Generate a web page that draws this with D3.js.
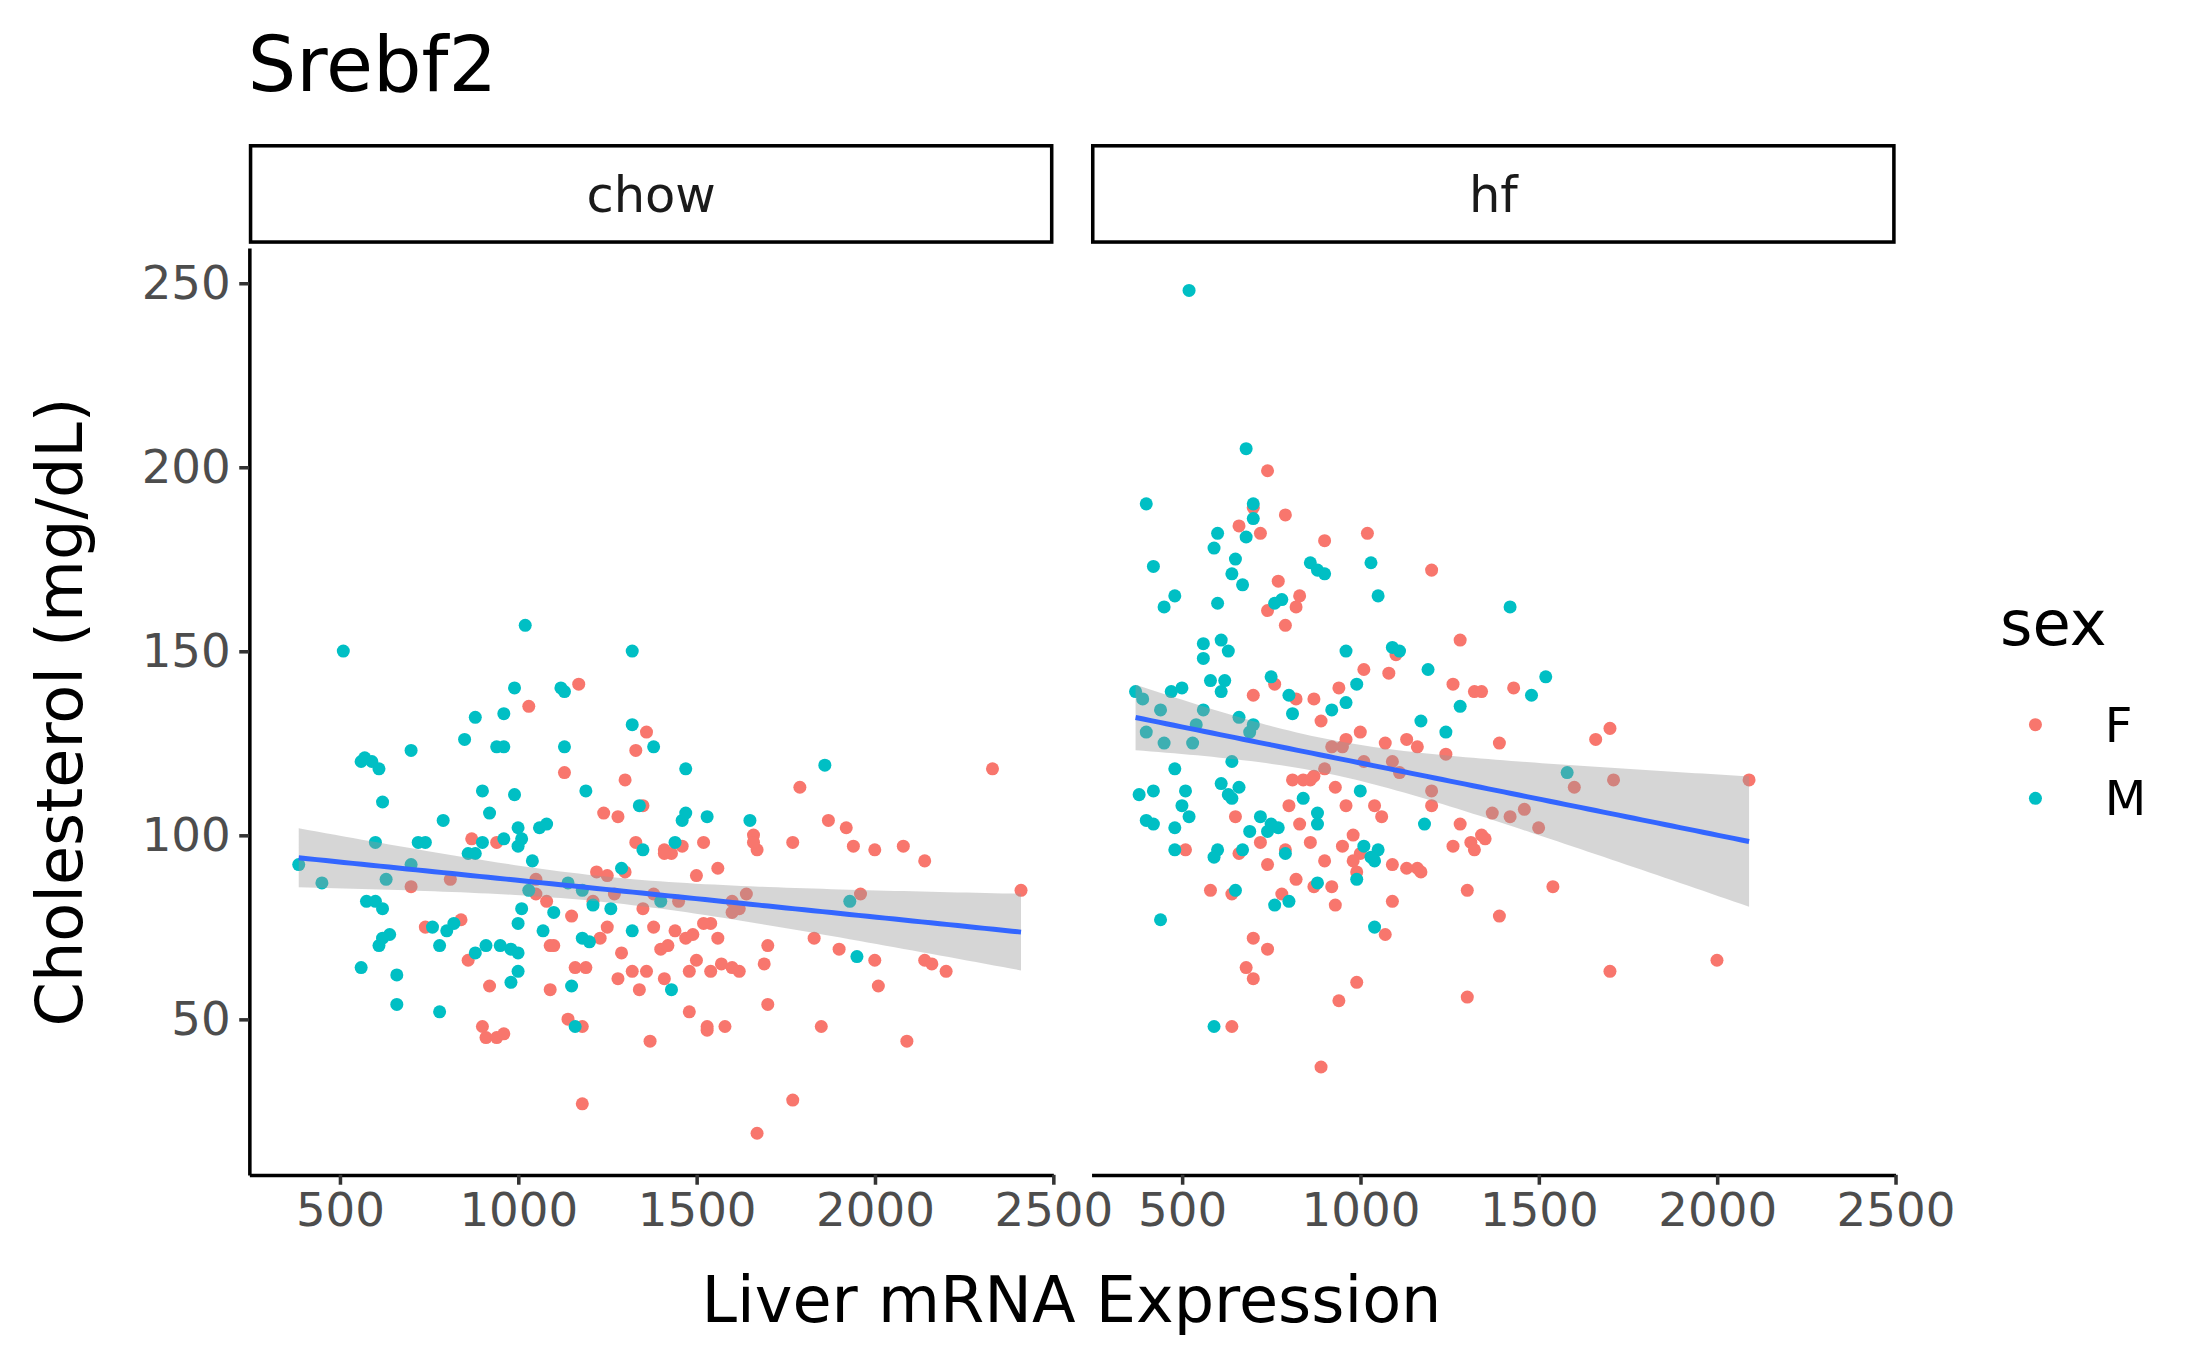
<!DOCTYPE html>
<html lang="en">
<head>
<meta charset="UTF-8">
<title>Srebf2</title>
<script src="https://d3js.org/d3.v7.min.js"></script>
<style>
  body { margin: 0; background: #fff; }
  text { font-family: "DejaVu Sans", sans-serif; }
</style>
</head>
<body>
<svg id="chart" width="2194" height="1356" viewBox="0 0 1550 958"></svg>
<script>
// panels and legend
var panels = ["chow", "hf"];
var sexes = ["F", "M"];
var xTicks = [500, 1000, 1500, 2000, 2500];
var yTicks = [50, 100, 150, 200, 250];

// [expression, cholesterol]
var chowM = [[385,92],[510,150],[450,87],[560,120],[570,121],[590,120],[610,118],[620,109],[600,98],[560,64],[575,82],[600,82],[610,70],[620,80],[660,54],[660,62],[630,88],[700,123],[720,98],[740,98],[780,52],[760,75],[780,70],[800,74],[820,76],[790,104],[850,126],[880,132],[860,95],[880,68],[900,112],[900,98],[920,106],[940,124],[960,124],[960,99],[960,133],[990,140],[990,111],[1000,102],[1000,97],[1010,99],[1020,157],[1010,80],[1000,76],[980,69],[980,60],[1000,63],[1040,93],[1060,102],[1080,103],[1120,140],[1130,139],[1130,124],[1140,87],[1160,48],[1150,59],[1180,85],[1180,72],[1190,112],[1210,81],[1200,71],[1260,80],[1290,91],[1320,150],[1320,130],[1340,108],[1350,96],[1380,124],[1400,82],[1430,58],[1440,98],[1460,104],[1470,118],[1470,106],[1530,105],[1650,104],[1860,119],[1930,82],[1950,67],[910,70],[880,95],[950,70],[1030,85],[1100,79],[1320,74],[1070,74],[1000,68],[700,92],[640,73],[620,72]];
var chowF = [[1030,135],[1170,141],[1130,117],[1240,106],[1280,105],[1300,115],[1330,123],[1360,128],[1350,108],[1410,96],[1430,95],[1460,97],[1500,89],[1520,98],[1540,76],[1560,91],[1600,82],[1660,100],[1670,96],[1790,113],[1870,104],[1920,102],[1940,97],[2000,96],[2080,97],[2140,93],[2330,118],[2410,85],[1770,98],[1830,72],[1900,69],[1960,84],[2000,66],[1850,48],[2010,59],[2090,44],[2140,66],[2160,65],[2200,63],[1690,65],[1700,54],[1620,63],[1570,65],[1600,64],[1540,63],[1530,48],[1530,47],[1480,52],[1410,61],[1400,69],[1380,75],[1360,63],[1340,58],[1320,63],[1280,61],[1370,44],[1180,27],[1670,19],[1770,28],[1250,75],[1290,68],[1250,89],[1270,84],[1350,80],[1420,70],[1440,74],[1470,72],[1490,73],[1500,66],[1560,72],[1600,79],[1520,76],[1640,84],[1210,82],[1190,64],[1160,64],[1140,50],[1180,48],[1150,78],[1100,70],[1080,82],[940,98],[920,59],[910,45],[900,48],[940,45],[960,46],[870,99],[840,77],[860,66],[810,88],[740,75],[700,86],[1050,88],[1050,84],[1090,70],[1220,90],[1230,72],[1300,90],[1330,98],[1380,84],[1450,82],[1480,63],[1410,95],[1090,58],[1580,48],[1620,80],[1660,98],[1700,70]];
var hfM = [[520,248],[680,205],[400,190],[700,190],[700,186],[420,173],[640,171],[670,168],[650,175],[680,181],[600,182],[590,178],[480,165],[450,162],[600,163],[610,153],[630,150],[560,152],[560,148],[580,142],[750,143],[780,164],[760,163],[860,174],[880,172],[900,171],[1030,174],[1050,165],[1090,151],[1110,150],[1170,131],[1190,145],[1280,135],[1420,162],[1480,138],[1520,143],[1580,117],[1240,128],[1180,103],[1050,96],[1010,97],[1030,94],[1040,93],[1000,112],[990,88],[880,87],[800,82],[760,81],[740,101],[790,95],[690,101],[660,113],[640,110],[630,111],[670,96],[600,96],[590,94],[480,96],[480,102],[440,77],[420,103],[400,104],[380,111],[370,139],[390,137],[400,128],[440,134],[450,125],[470,139],[500,140],[480,118],[510,112],[530,125],[540,130],[560,134],[610,139],[620,142],[660,132],[690,128],[700,130],[640,120],[610,114],[500,108],[520,105],[720,105],[750,103],[770,102],[880,103],[920,134],[960,150],[960,136],[990,141],[800,138],[810,133],[420,112],[590,48],[1040,75],[880,106],[840,110],[650,85]];
var hfF = [[740,199],[700,189],[660,184],[720,182],[790,187],[900,180],[1020,182],[1200,172],[1280,153],[770,169],[790,157],[740,161],[820,162],[830,165],[700,138],[760,141],[820,137],[870,137],[890,131],[940,140],[1010,145],[1080,144],[1100,149],[1010,120],[1090,120],[1110,117],[1160,124],[1260,141],[1320,139],[1340,139],[1430,140],[1390,125],[1370,106],[1420,105],[1460,107],[1500,102],[1600,113],[1660,126],[1700,129],[1710,115],[2090,115],[1540,86],[1390,78],[1300,85],[1260,97],[1280,103],[1310,98],[1320,96],[1340,100],[1350,99],[1200,108],[1160,91],[1170,90],[1130,91],[1090,82],[1070,73],[1090,92],[1000,95],[980,100],[960,108],[930,113],[900,118],[870,116],[860,115],[840,115],[810,115],[800,108],[830,103],[860,98],[900,93],[950,97],[980,93],[990,90],[930,81],[920,86],[870,86],[820,88],[790,96],[780,84],[720,98],[740,92],[660,95],[640,84],[650,105],[700,72],[680,64],[700,61],[740,69],[640,48],[580,85],[510,96],[990,60],[940,55],[890,37],[1300,56],[1700,63],[2000,66],[1040,108],[1060,105],[1200,112],[920,124],[950,124],[960,126],[1000,128],[1070,125],[1130,126],[1240,122]];

var data = {
  chow: { F: chowF, M: chowM },
  hf: { F: hfF, M: hfM }
};
var colors = { F: "#F8766D", M: "#00BFC4" };

var svg = d3.select("#chart");
var plotTop = 175, plotBottom = 830;
var panelX = { chow: [176, 744], hf: [771, 1339] };

var y = d3.scaleLinear().domain([7.7, 259.6]).range([plotBottom, plotTop]);

svg.append("text").attr("x", 175).attr("y", 64).attr("font-size", 54).attr("fill", "#000").text("Srebf2");

// linear fit with 95% band
function fit(pts) {
  var n = pts.length;
  var mx = d3.mean(pts, d => d[0]), my = d3.mean(pts, d => d[1]);
  var sxx = d3.sum(pts, d => (d[0] - mx) * (d[0] - mx));
  var sxy = d3.sum(pts, d => (d[0] - mx) * (d[1] - my));
  var b = sxy / sxx, a = my - b * mx;
  var sse = d3.sum(pts, d => Math.pow(d[1] - a - b * d[0], 2));
  var s = Math.sqrt(sse / (n - 2));
  var ext = d3.extent(pts, d => d[0]);
  var out = [];
  for (var i = 0; i <= 80; i++) {
    var xv = ext[0] + (ext[1] - ext[0]) * i / 80;
    var se = s * Math.sqrt(1 / n + (xv - mx) * (xv - mx) / sxx);
    var yv = a + b * xv;
    out.push({ x: xv, y: yv, lo: yv - 1.97 * se, hi: yv + 1.97 * se });
  }
  return out;
}

panels.forEach(function(p, pi) {
  var x = d3.scaleLinear().domain([246, 2500]).range(panelX[p]);
  var w = panelX[p][1] - panelX[p][0];

  // strip
  svg.append("rect").attr("x", panelX[p][0] + 1).attr("y", 103).attr("width", w - 2).attr("height", 68)
    .attr("fill", "#fff").attr("stroke", "#000").attr("stroke-width", 2.5);
  svg.append("text").attr("x", (panelX[p][0] + panelX[p][1]) / 2).attr("y", 150)
    .attr("text-anchor", "middle").attr("font-size", 35).attr("fill", "#1a1a1a").text(p);

  var g = svg.append("g");
  ["F", "M"].forEach(function(s) {
    g.selectAll(null).data(data[p][s]).enter().append("circle")
      .attr("cx", d => x(d[0])).attr("cy", d => y(d[1])).attr("r", 4.6)
      .attr("fill", colors[s]);
  });

  var all = data[p].F.concat(data[p].M);
  var f = fit(all);
  g.append("path").datum(f)
    .attr("d", d3.area().x(d => x(d.x)).y0(d => y(d.lo)).y1(d => y(d.hi)))
    .attr("fill", "#999999").attr("fill-opacity", 0.4);
  g.append("path").datum(f)
    .attr("d", d3.line().x(d => x(d.x)).y(d => y(d.y)))
    .attr("fill", "none").attr("stroke", "#3366FF").attr("stroke-width", 3.5);

  var xa = svg.append("g").attr("transform", "translate(0," + plotBottom + ")")
    .call(d3.axisBottom(x).tickValues(xTicks).tickFormat(d3.format("d")).tickSize(7).tickPadding(6).tickSizeOuter(0));
  xa.select(".domain").attr("stroke-width", 2.5);
  xa.selectAll(".tick line").attr("stroke-width", 2.5).attr("stroke", "#333");
  xa.selectAll("text").attr("font-size", 33).attr("fill", "#4d4d4d").attr("font-family", "DejaVu Sans");

  if (pi === 0) {
    var ya = svg.append("g").attr("transform", "translate(" + panelX[p][0] + ",0)")
      .call(d3.axisLeft(y).tickValues(yTicks).tickSize(7).tickPadding(6).tickSizeOuter(0));
    ya.select(".domain").attr("stroke-width", 2.5);
    ya.selectAll(".tick line").attr("stroke-width", 2.5).attr("stroke", "#333");
    ya.selectAll("text").attr("font-size", 33).attr("fill", "#4d4d4d").attr("font-family", "DejaVu Sans");
  }
});

svg.append("text").attr("x", 757).attr("y", 934).attr("text-anchor", "middle")
  .attr("font-size", 45).attr("fill", "#000").text("Liver mRNA Expression");
svg.append("text").attr("transform", "translate(58,503) rotate(-90)").attr("text-anchor", "middle")
  .attr("font-size", 45).attr("fill", "#000").text("Cholesterol (mg/dL)");

// legend
svg.append("text").attr("x", 1413).attr("y", 456).attr("font-size", 44).attr("fill", "#000").text("sex");
sexes.forEach(function(s, i) {
  svg.append("circle").attr("cx", 1438).attr("cy", 512 + i * 52).attr("r", 4.6).attr("fill", colors[s]);
  svg.append("text").attr("x", 1487).attr("y", 524 + i * 52).attr("font-size", 34).attr("fill", "#000").text(s);
});
</script>
</body>
</html>
